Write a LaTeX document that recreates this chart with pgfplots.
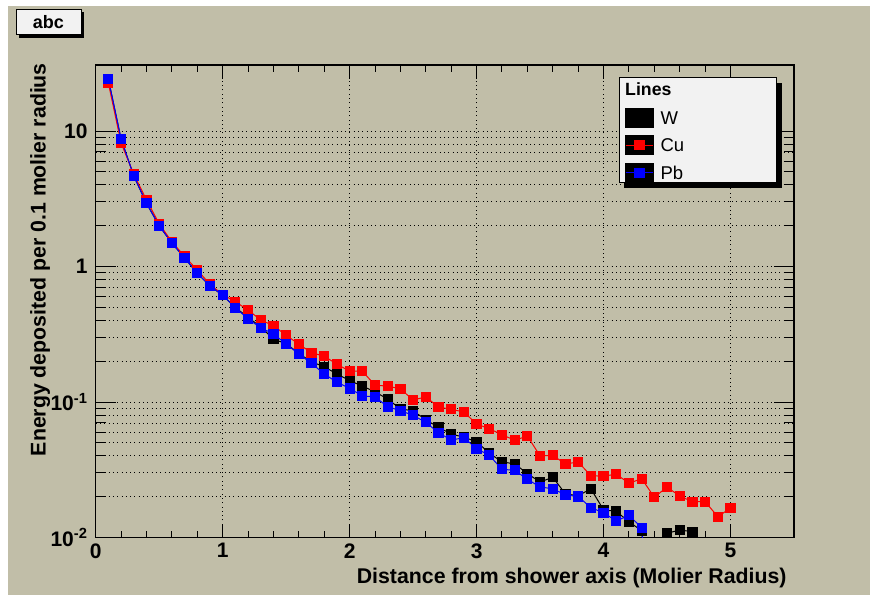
\documentclass[border=0pt]{standalone}
\usepackage{pgfplots}
\pgfplotsset{compat=1.18}
\usepackage{fontspec}
\setmainfont{Liberation Sans}
\definecolor{rootbg}{RGB}{193,190,168}
\definecolor{legfill}{RGB}{242,242,242}
\pgfplotstableread{
x y
0.1 24.0
0.2 8.7
0.3 4.66
0.4 2.93
0.5 2.0
0.6 1.49
0.7 1.16
0.8 0.89
0.9 0.72
1.0 0.613
1.1 0.50
1.2 0.42
1.3 0.36
1.4 0.290
1.5 0.27
1.6 0.228
1.7 0.198
1.8 0.182
1.9 0.161
2.0 0.144
2.1 0.131
2.2 0.119
2.3 0.105
2.4 0.089
2.5 0.086
2.6 0.0740
2.7 0.065
2.8 0.058
2.9 0.055
3.0 0.0509
3.1 0.042
3.2 0.0361
3.3 0.0350
3.4 0.0296
3.5 0.0257
3.6 0.0278
3.7 0.0210
3.8 0.0203
3.9 0.0229
4.0 0.0160
4.1 0.0156
4.2 0.01308
4.3 0.01122
4.4 0.001
4.5 0.01074
4.6 0.01136
4.7 0.01104
}\tabW
\pgfplotstableread{
x y
0.1 22.5
0.2 8.15
0.3 4.8
0.4 3.1
0.5 2.07
0.6 1.52
0.7 1.19
0.8 0.94
0.9 0.74
1.0 0.62
1.1 0.55
1.2 0.477
1.3 0.403
1.4 0.366
1.5 0.311
1.6 0.267
1.7 0.231
1.8 0.218
1.9 0.190
2.0 0.169
2.1 0.169
2.2 0.133
2.3 0.131
2.4 0.125
2.5 0.1035
2.6 0.109
2.7 0.0919
2.8 0.0883
2.9 0.0844
3.0 0.0688
3.1 0.0635
3.2 0.0574
3.3 0.0522
3.4 0.0561
3.5 0.0400
3.6 0.0404
3.7 0.0349
3.8 0.0361
3.9 0.0286
4.0 0.0283
4.1 0.0294
4.2 0.0251
4.3 0.0272
4.4 0.0198
4.5 0.0236
4.6 0.0202
4.7 0.0184
4.8 0.0184
4.9 0.01424
5.0 0.01651
}\tabCu
\pgfplotstableread{
x y
0.1 24.1
0.2 8.73
0.3 4.66
0.4 2.93
0.5 2.0
0.6 1.49
0.7 1.156
0.8 0.891
0.9 0.72
1.0 0.613
1.1 0.497
1.2 0.41
1.3 0.353
1.4 0.318
1.5 0.268
1.6 0.226
1.7 0.193
1.8 0.161
1.9 0.140
2.0 0.126
2.1 0.111
2.2 0.109
2.3 0.0923
2.4 0.0863
2.5 0.0798
2.6 0.0708
2.7 0.0594
2.8 0.0524
2.9 0.0545
3.0 0.0453
3.1 0.0404
3.2 0.0319
3.3 0.0313
3.4 0.0269
3.5 0.0236
3.6 0.0229
3.7 0.0206
3.8 0.0201
3.9 0.0166
4.0 0.01524
4.1 0.01324
4.2 0.01458
4.3 0.01181
4.4 0.001
}\tabPb
\begin{document}
\begin{tikzpicture}[x=1pt,y=1pt]
\fill[white] (0,0) rectangle (870,595);
\fill[rootbg] (8,0) rectangle (870,589);
% title box
\fill[black] (19.4,557.3) rectangle (84.4,583);
\fill[legfill] (16.7,560) rectangle (81.7,585.7);
\draw[black, line width=1pt] (16.7,560) rectangle (81.7,585.7);
\node[anchor=base, inner sep=0pt, font=\fontsize{18}{18}\selectfont\bfseries] at (48.3,566.7) {abc};
\begin{axis}[
  at={(95.7pt,57.5pt)}, anchor=south west,
  scale only axis, width=698.3pt, height=472.5pt,
  xmin=0, xmax=5.5, ymode=log, ymin=0.01, ymax=30.7,
  xtick={0,1,2,3,4,5}, xticklabels={0,1,2,3,4,5},
  minor x tick num=4,
  ytick={0.01,0.1,1,10},
  yticklabels={10\textsuperscript{-2},10\textsuperscript{-1},1,10},
  tick align=inside,
  axis line style={line width=1.5pt},
  every tick/.style={black, line width=1pt},
  xtick style={/pgfplots/major tick length=14pt,/pgfplots/minor tick length=6.7pt},
  ytick style={/pgfplots/major tick length=20pt,/pgfplots/minor tick length=10pt},
  xmajorgrids, ymajorgrids, yminorgrids,
  major grid style={black, line width=0.9pt, dash pattern=on 0.9pt off 3.4pt},
  minor grid style={black, line width=0.9pt, dash pattern=on 0.9pt off 3.4pt},
  xticklabel style={font=\fontsize{21}{21}\selectfont\bfseries, inner sep=0pt, anchor=north, yshift=-5.8pt},
  yticklabel style={font=\fontsize{21}{21}\selectfont\bfseries, inner sep=0pt, anchor=east, xshift=-8pt},
  legend style={draw=none, fill=none, at={(0.7580,0.9633)}, anchor=north west,
    inner sep=0pt, row sep=7.5pt, column sep=6.6pt,
    nodes={inner sep=0pt, text depth=}, font=\fontsize{18.5}{18.5}\selectfont},
  legend cell align=left,
  legend image code/.code={
    \fill[black] (0pt,-9.5pt) rectangle (27.7pt,9.5pt);
    \draw[mark repeat=2,mark phase=2,#1] plot coordinates {(0pt,0pt) (13.85pt,0pt) (27.7pt,0pt)};
  },
]
\addlegendimage{empty legend}
\addlegendentry{\hspace*{-35.3pt}\fontsize{17.7}{17.7}\selectfont\bfseries Lines\rule[-5pt]{0pt}{5pt}}
\addplot[black, line width=1pt, mark=square*, mark size=4.6pt, mark options={solid}] table {\tabW};
\addlegendentry{W}
\addplot[red, line width=1pt, mark=square*, mark size=4.6pt, mark options={solid}] table {\tabCu};
\addlegendentry{Cu}
\addplot[blue, line width=1pt, mark=square*, mark size=4.6pt, mark options={solid}] table {\tabPb};
\addlegendentry{Pb}
\fill[black] (axis description cs:0.7570,0.7393) rectangle (axis description cs:0.9824,0.9624);
\fill[legfill] (axis description cs:0.7498,0.7509) rectangle (axis description cs:0.9752,0.9740);
\draw[black, line width=1pt] (axis description cs:0.7498,0.7509) rectangle (axis description cs:0.9752,0.9740);
\end{axis}
\node[anchor=base east, inner sep=0pt, font=\fontsize{21.3}{21.3}\selectfont\bfseries] at (786.7,11.7) {Distance from shower axis (Molier Radius)};
\node[rotate=90, anchor=base east, inner sep=0pt, font=\fontsize{21.3}{21.3}\selectfont\bfseries] at (45.5,532) {Energy deposited per 0.1 molier radius};
\end{tikzpicture}
\end{document}
